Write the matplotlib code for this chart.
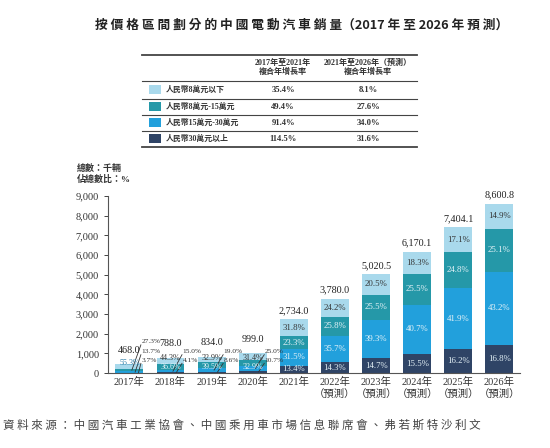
import matplotlib
matplotlib.use('Agg')
import matplotlib.pyplot as plt
import numpy as np
from matplotlib.ticker import FuncFormatter

plt.rcParams['font.family'] = ['Liberation Serif', 'Noto Sans CJK TC', 'DejaVu Sans']

# data
years = ['2017年', '2018年', '2019年', '2020年', '2021年',
         '2022年\n（預測）', '2023年\n（預測）', '2024年\n（預測）', '2025年\n（預測）', '2026年\n（預測）']
totals = [468.0, 788.0, 834.0, 999.0, 2734.0, 3780.0, 5020.5, 6170.1, 7404.1, 8600.8]
share_below8 = [55.3, 44.3, 32.9, 31.4, 31.8, 24.2, 20.5, 18.3, 17.1, 14.9]
share_8_15 = [27.3, 36.6, 39.5, 32.9, 23.3, 25.8, 25.5, 25.5, 24.8, 25.1]
share_15_30 = [13.7, 15.0, 19.0, 25.0, 31.5, 35.7, 39.3, 40.7, 41.9, 43.2]
share_above30 = [3.7, 4.1, 8.6, 10.7, 13.4, 14.3, 14.7, 15.5, 16.2, 16.8]

segment_names = ['人民幣8萬元以下', '人民幣8萬元-15萬元', '人民幣15萬元-30萬元', '人民幣30萬元以上']
cagr_17_21 = ['35.4%', '49.4%', '91.4%', '114.5%']
cagr_21_26 = ['8.1%', '27.6%', '34.0%', '31.6%']

colors = ['#a9d9ec', '#2598a8', '#22a0dc', '#2f4466']  # same order as segment_names
text_cols = ['#333333', '#e6f3f8', '#e6f3f8', '#e6f3f8']

fig = plt.figure(figsize=(5.5, 4.48), dpi=100)

# overlay in pixel coords for title / table / notes
ov = fig.add_axes([0, 0, 1, 1])
ov.set_xlim(0, 550)
ov.set_ylim(448, 0)
ov.axis('off')
ov.patch.set_alpha(0)

ax = fig.add_axes([108 / 550, 1 - 373 / 448, 412 / 550, 177 / 448])

x = np.arange(len(years))
tot = np.array(totals)
# bottom -> top stacking
stack = [share_above30, share_15_30, share_8_15, share_below8]
stack_idx = [3, 2, 1, 0]
bottom = np.zeros(len(years))
seg_vals = {}
for sh, ci in zip(stack, stack_idx):
    v = tot * np.array(sh) / 100
    ax.bar(x, v, bottom=bottom, width=0.68, color=colors[ci], linewidth=0)
    seg_vals[ci] = (bottom.copy(), v, sh)
    bottom = bottom + v

lab_fs = 6.3
small_fs = 5.3
tot_fs = 7.3
for i in range(len(years)):
    if tot[i] > 2000:
        for ci in range(4):
            b, v, sh = seg_vals[ci]
            ax.text(x[i], b[i] + v[i] / 2, '%.1f%%' % sh[i], ha='center', va='center',
                    fontsize=lab_fs, color=text_cols[ci])
        ax.annotate('{:,.1f}'.format(totals[i]), (x[i], tot[i]), xytext=(0, 3),
                    textcoords='offset points', ha='center', va='bottom', fontsize=tot_fs, color='#222222')
    else:
        # small bars: light (and teal) inside, the rest pulled out with leader lines
        inside = [0] if i == 0 else [0, 1]
        outside = [ci for ci in [1, 2, 3] if ci not in inside]
        ins_y = [500] if len(inside) == 1 else [760, 320]
        for ci, yy in zip(inside, ins_y):
            ax.text(x[i], yy, '%.1f%%' % seg_vals[ci][2][i], ha='center', va='center',
                    fontsize=5.8, color='#2d7fa8' if ci == 0 and i == 0 else text_cols[ci],
                    clip_on=False)
        out_y = [640, 1080, 1580][:len(outside)][::-1]
        for j, (ci, yy) in enumerate(zip(outside, out_y)):
            ax.text(x[i] + 0.29, yy, '%.1f%%' % seg_vals[ci][2][i], ha='left', va='center',
                    fontsize=small_fs, color='#333333')
            b, v, sh = seg_vals[ci]
            ax.plot([x[i] + 0.06 + 0.08 * j, x[i] + 0.28], [b[i] + v[i] / 2, yy - 150],
                    color='#333333', lw=0.6)
        ax.text(x[i], tot[i] + 700, '{:,.1f}'.format(totals[i]), ha='center', va='center',
                fontsize=tot_fs, color='#222222')

ax.set_xlim(-0.52, 9.5)
ax.set_ylim(0, 9000)
ax.set_yticks(np.arange(0, 9001, 1000))
ax.yaxis.set_major_formatter(FuncFormatter(lambda v, p: '{:,.0f}'.format(v)))
ax.set_xticks(x)
ax.set_xticklabels(years, fontsize=7.5, color='#333333', linespacing=1.25)
ax.tick_params(axis='x', length=0, pad=3)
ax.tick_params(axis='y', length=3, width=0.7, labelsize=7.5, labelcolor='#333333', color='#444444')
for s in ['top', 'right']:
    ax.spines[s].set_visible(False)
for s in ['left', 'bottom']:
    ax.spines[s].set_color('#555555')
    ax.spines[s].set_linewidth(0.8)
ax.patch.set_alpha(0)

# title
ov.text(302, 25, '按 價 格 區 間 劃 分 的 中 國 電 動 汽 車 銷 量（2017 年 至 2026 年 預 測）',
        ha='center', va='center', fontsize=9.2, fontweight='bold', color='#222222',
        family=['Noto Sans CJK TC'])

# table
for yy, lw in [(55, 1.3), (81, 0.8), (99, 0.8), (115, 0.8), (131, 0.8), (147, 1.3)]:
    ov.plot([142, 417], [yy, yy], color='#444444', lw=lw)
hdr = dict(ha='center', va='center', fontsize=5.8, fontweight='bold', color='#333333')
ov.text(283, 63, '2017年至2021年', **hdr)
ov.text(283, 72, '複合年增長率', **hdr)
ov.text(368, 63, '2021年至2026年（預測）', **hdr)
ov.text(368, 72, '複合年增長率', **hdr)
row_y = [90, 107, 123, 139]
for k in range(4):
    ov.add_patch(plt.Rectangle((149, row_y[k] - 4.5), 12, 9, color=colors[k], lw=0))
    ov.text(166, row_y[k], segment_names[k], ha='left', va='center', fontsize=5.7,
            fontweight='bold', color='#333333')
    ov.text(283, row_y[k], cagr_17_21[k], ha='center', va='center', fontsize=6.2,
            fontweight='bold', color='#333333')
    ov.text(368, row_y[k], cagr_21_26[k], ha='center', va='center', fontsize=6.2,
            fontweight='bold', color='#333333')

# unit notes
ov.text(77, 168, '總數：千輛', ha='left', va='center', fontsize=6.5, fontweight='bold', color='#333333')
ov.text(77, 179, '佔總數比：%', ha='left', va='center', fontsize=6.5, fontweight='bold', color='#333333')

# source
ov.text(3, 425, '資 料 來 源 ： 中 國 汽 車 工 業 協 會 、 中 國 乘 用 車 市 場 信 息 聯 席 會 、 弗 若 斯 特 沙 利 文',
        ha='left', va='center', fontsize=8.3, style='italic', color='#444444',
        family=['Noto Sans CJK TC'])

fig.savefig('out.png', dpi=100)
